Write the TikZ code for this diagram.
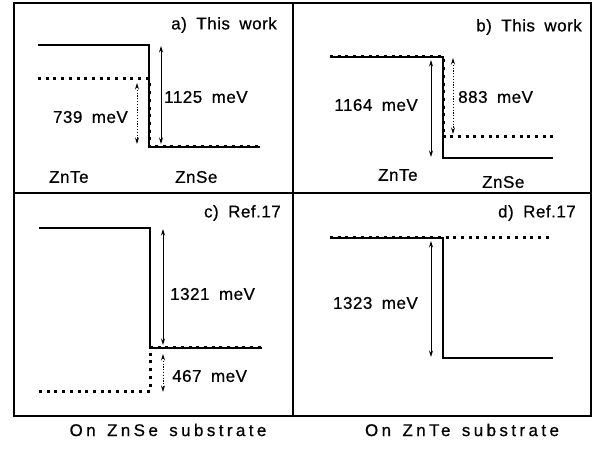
\documentclass[tikz,border=0pt]{standalone}
\usepackage{fontspec}
\setmainfont{Liberation Sans}
\newfontfamily\labfont[LetterSpace=3,WordSpace=1.8,FakeBold=0.6]{Liberation Sans}
\newfontfamily\botfont[LetterSpace=20,WordSpace=1.4,FakeBold=0.6]{Liberation Sans}
\usetikzlibrary{arrows.meta}
\begin{document}
\begin{tikzpicture}[x=1pt,y=-1pt,
  frame/.style={line width=1.2pt},
  lvl/.style={line width=1.1pt},
  dotlvl/.style={line width=3pt, dash pattern=on 3pt off 4.7pt},
  sarr/.style={line width=0.9pt,{Stealth[length=6.5pt,width=4pt]}-{Stealth[length=6.5pt,width=4pt]}},
  darr/.style={line width=1pt, dash pattern=on 1.2pt off 1.6pt,{Stealth[length=6.5pt,width=4pt]}-{Stealth[length=6.5pt,width=4pt]}},
  lab/.style={font=\labfont\fontsize{17}{20}\selectfont, inner sep=0pt},
  botlab/.style={font=\botfont\fontsize{17}{20}\selectfont, inner sep=0pt}
]
\useasboundingbox (0,0) rectangle (595,449);
% frame
\draw[frame] (14,3) rectangle (591,416);
\draw[frame] (293,3) -- (293,416);
\draw[frame] (14,193) -- (591,193);

% ---- panel a
\coordinate (a1) at (38,45); \coordinate (a2) at (149,45);
\coordinate (a3) at (149,147); \coordinate (a4) at (260,147);
\coordinate (a5) at (38,79); \coordinate (a6) at (149,79);
\draw[lvl] (a1) -- (a2) -- (a3) -- (a4);
\draw[dotlvl] (a5) -- (a6) -- (a3) -- (a4);
\coordinate (aA1) at (161,45); \coordinate (aA2) at (161,147);
\coordinate (aD1) at (137,81); \coordinate (aD2) at (137,147);
\draw[sarr, shorten <=1pt, shorten >=3pt] (aA1) -- (aA2);
\draw[darr, shorten <=2pt, shorten >=3pt] (aD1) -- (aD2);
\node[lab, anchor=east] (ta) at (277,25) {a) This work};
\node[lab, anchor=west] (ea1) at (164,97) {1125 meV};
\node[lab, anchor=east] (ea2) at (128,117) {739 meV};
\node[lab, anchor=west] (za1) at (49,177) {ZnTe};
\node[lab, anchor=west] (za2) at (175,177) {ZnSe};

% ---- panel b
\coordinate (b1) at (330,57); \coordinate (b2) at (443,57);
\coordinate (b3) at (443,158); \coordinate (b4) at (553,158);
\coordinate (b5) at (443,137); \coordinate (b6) at (553,137);
\draw[lvl] (b1) -- (b2) -- (b3) -- (b4);
\draw[dotlvl] (b1) -- (b2) -- (b5) -- (b6);
\coordinate (bA1) at (431,57); \coordinate (bA2) at (431,158);
\coordinate (bD1) at (453,57); \coordinate (bD2) at (453,137);
\draw[sarr, shorten <=3pt, shorten >=1pt] (bA1) -- (bA2);
\draw[darr, shorten <=1pt, shorten >=3pt] (bD1) -- (bD2);
\node[lab, anchor=east] (tb) at (582,27) {b) This work};
\node[lab, anchor=east] (eb1) at (418,105) {1164 meV};
\node[lab, anchor=west] (eb2) at (458,97) {883 meV};
\node[lab, anchor=west] (zb1) at (378,175) {ZnTe};
\node[lab, anchor=west] (zb2) at (482,182) {ZnSe};

% ---- panel c
\coordinate (c1) at (39,228); \coordinate (c2) at (150,228);
\coordinate (c3) at (150,348); \coordinate (c4) at (262,348);
\coordinate (c5) at (39,391); \coordinate (c6) at (150,391);
\draw[lvl] (c1) -- (c2) -- (c3) -- (c4);
\draw[dotlvl] (c5) -- (c6) -- (c3) -- (c4);
\coordinate (cA1) at (163,228); \coordinate (cA2) at (163,348);
\coordinate (cD1) at (163,352); \coordinate (cD2) at (163,393);
\draw[sarr, shorten <=1pt, shorten >=3pt] (cA1) -- (cA2);
\draw[darr, shorten <=2pt, shorten >=1pt] (cD1) -- (cD2);
\node[lab, anchor=east] (tc) at (281,213) {c) Ref.17};
\node[lab, anchor=west] (ec1) at (170,294) {1321 meV};
\node[lab, anchor=west] (ec2) at (172,376) {467 meV};
\node[botlab] (sc) at (168,430) {On ZnSe substrate};

% ---- panel d
\coordinate (d1) at (330,238); \coordinate (d2) at (443,238);
\coordinate (d3) at (443,358); \coordinate (d4) at (553,358);
\coordinate (d5) at (553,238);
\draw[lvl] (d1) -- (d2) -- (d3) -- (d4);
\draw[dotlvl] (d1) -- (d5);
\coordinate (dA1) at (431,238); \coordinate (dA2) at (431,358);
\draw[sarr, shorten <=3pt, shorten >=1pt] (dA1) -- (dA2);
\node[lab, anchor=east] (td) at (576,213) {d) Ref.17};
\node[lab, anchor=east] (ed1) at (418,303) {1323 meV};
\node[botlab] (sd) at (462,430) {On ZnTe substrate};
\end{tikzpicture}
\end{document}
